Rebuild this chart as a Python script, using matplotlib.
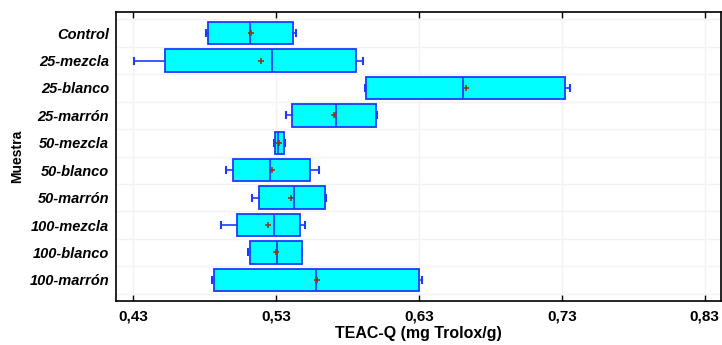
import matplotlib
matplotlib.use("Agg")
import matplotlib.pyplot as plt

plt.rcParams['font.family'] = ['Liberation Sans', 'DejaVu Sans']

muestras = ["Control", "25-mezcla", "25-blanco", "25-marrón", "50-mezcla",
            "50-blanco", "50-marrón", "100-mezcla", "100-blanco", "100-marrón"]
# whisker low, Q1, median, Q3, whisker high, mean
wlo = [0.4806, 0.4306, 0.5921, 0.5368, 0.5286, 0.4948, 0.5132, 0.4915, 0.5104, 0.4850]
q1 = [0.4820, 0.4521, 0.5930, 0.5410, 0.5289, 0.4995, 0.5177, 0.5025, 0.5118, 0.4862]
med = [0.5114, 0.5272, 0.6610, 0.5720, 0.5312, 0.5258, 0.5422, 0.5282, 0.5307, 0.5576]
q3 = [0.5415, 0.5860, 0.7322, 0.5996, 0.5356, 0.5536, 0.5643, 0.5468, 0.5478, 0.6297]
whi = [0.5440, 0.5909, 0.7357, 0.6003, 0.5363, 0.5601, 0.5648, 0.5499, 0.5480, 0.6322]
mean = [0.5121, 0.5193, 0.6626, 0.5702, 0.5321, 0.5268, 0.5405, 0.5244, 0.5296, 0.5583]

xticks = [0.43, 0.53, 0.63, 0.73, 0.83]
xticklabels = ["0,43", "0,53", "0,63", "0,73", "0,83"]

stats = []
for i in range(len(muestras)):
    stats.append(dict(label=muestras[i], whislo=wlo[i], q1=q1[i], med=med[i],
                      q3=q3[i], whishi=whi[i], mean=mean[i], fliers=[]))

fig = plt.figure(figsize=(7.22, 3.45), dpi=100)
ax = fig.add_axes([0.1607, 0.1275, 0.8379, 0.8377])

edge = '#1a3cff'
pos = list(range(len(muestras)))
ax.bxp(stats, positions=pos, vert=False, widths=0.82, capwidths=0.22,
       patch_artist=True, showmeans=True, showfliers=False,
       boxprops=dict(facecolor='#00ffff', edgecolor=edge, linewidth=1.3),
       medianprops=dict(color=edge, linewidth=1.3),
       whiskerprops=dict(color=edge, linewidth=1.2),
       capprops=dict(color=edge, linewidth=1.5),
       meanprops=dict(marker='+', markeredgecolor='#8b3a1a', markersize=4,
                      markeredgewidth=1.2))

ax.set_xlim(0.4178, 0.8414)
ax.set_ylim(9.77, -0.77)
ax.set_xticks(xticks)
ax.set_xticklabels(xticklabels, fontsize=11, fontweight='bold')
ax.set_yticks(pos)
ax.set_yticklabels(muestras, fontsize=10.5, fontweight='bold', style='italic')
ax.set_yticks([p + 0.5 for p in range(-1, len(muestras))], minor=True)
ax.tick_params(axis='y', which='both', length=0, pad=5)
ax.tick_params(axis='x', direction='in', length=4, width=1, top=True, pad=6)
ax.grid(True, axis='x', color='#f2f2f2', linewidth=1)
ax.grid(True, axis='y', which='minor', color='#f2f2f2', linewidth=1)
ax.set_axisbelow(True)
for s in ax.spines.values():
    s.set_linewidth(1.2)

ax.set_xlabel("TEAC-Q (mg Trolox/g)", fontsize=11.5, fontweight='bold', labelpad=2)
ax.set_ylabel("Muestra", fontsize=10, fontweight='bold', labelpad=4)

fig.savefig("out.png", dpi=100)
